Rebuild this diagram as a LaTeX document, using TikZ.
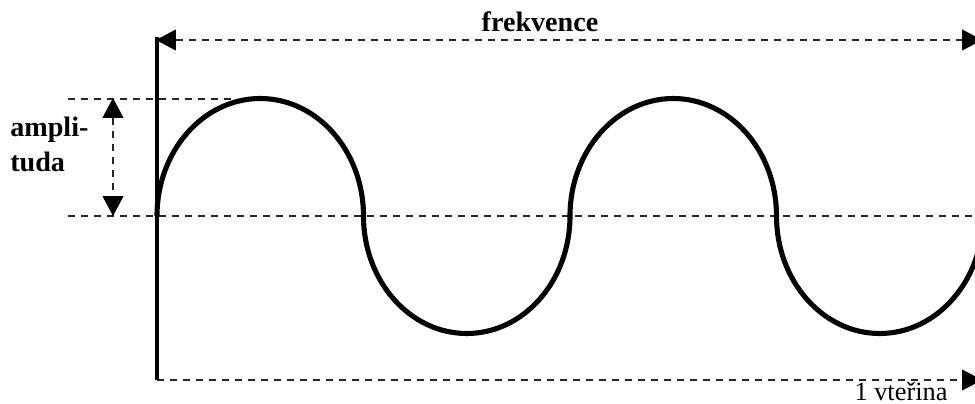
\documentclass[tikz,border=0pt]{standalone}
\usepackage{fontspec}
\setmainfont{Liberation Serif}
\usetikzlibrary{arrows.meta}
\tikzset{
  guide/.style={black!85,line width=0.6pt,dash pattern=on 4pt off 3.4pt},
  bigtri/.tip={Triangle[length=0.4cm,width=0.42cm,color=black]},
  axisline/.style={black,line width=2pt},
  wave/.style={black,line width=2.9pt,line join=round},
  lbl/.style={inner sep=0pt,font=\fontsize{16}{19}\selectfont\bfseries},
}
\newcommand{\halfup}{arc[start angle=180,end angle=0,x radius=103.25,y radius=117.5]}
\newcommand{\halfdown}{arc[start angle=180,end angle=360,x radius=103.25,y radius=117.5]}

\begin{document}
\begin{tikzpicture}[x=0.02cm,y=0.02cm]
\useasboundingbox (0,0) rectangle (975,403);
% reference points
\coordinate (o) at (157,187);
\coordinate (axtop) at (157,366);
\coordinate (axbot) at (157,23);
\coordinate (fstart) at (156,363);
\coordinate (fend) at (982,363);
\coordinate (tend) at (982,23);
\coordinate (ltop) at (68,304);
\coordinate (rtop) at (232,304);
\coordinate (lmid) at (68,187);
\coordinate (rmid) at (975,187);
\coordinate (amptop) at (113,305);
\coordinate (ampmid) at (113,187);
% guides and arrows
\draw[guide] (ltop) -- (rtop);
\draw[guide] (lmid) -- (rmid);
\draw[guide,bigtri-bigtri] (amptop) -- (ampmid);
\draw[guide,bigtri-bigtri] (fstart) -- (fend);
\draw[guide,-bigtri] (axbot) -- (tend);
\draw[axisline] (axtop) -- (axbot);
% the wave
\draw[wave] (o) \halfup \halfdown \halfup \halfdown;
% labels
\node[lbl,anchor=base] (freq) at (540,371) {frekvence};
\node[lbl,anchor=base west] (amp1) at (10,266) {ampli-};
\node[lbl,anchor=base west] (amp2) at (10,232) {tuda};
\node[inner sep=0pt,anchor=base,font=\fontsize{15}{18}\selectfont] (sec) at (901,3) {1 vteřina};
\end{tikzpicture}
\end{document}
